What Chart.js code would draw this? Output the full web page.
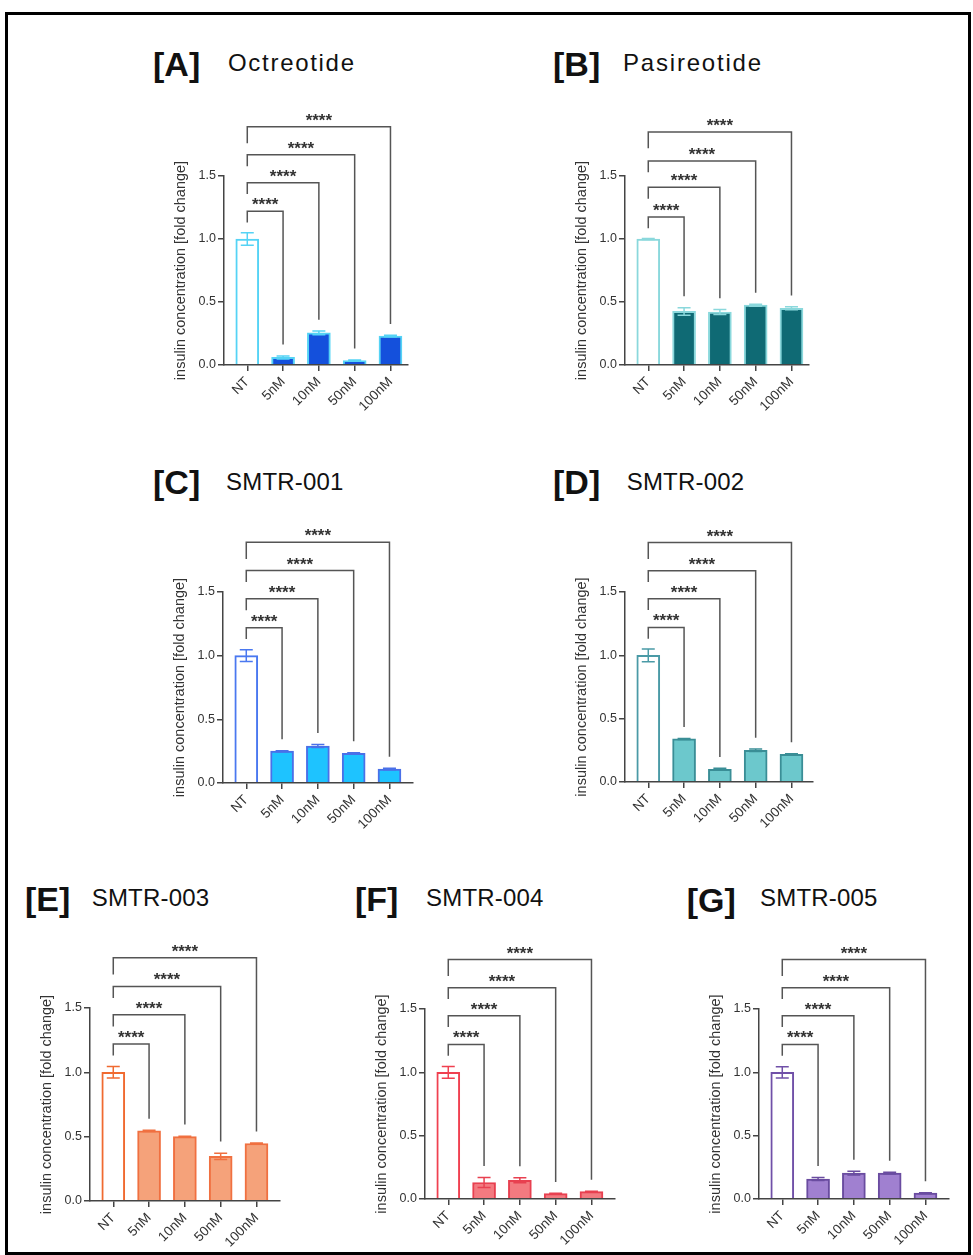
<!DOCTYPE html>
<html>
<head>
<meta charset="utf-8">
<script src="https://cdn.jsdelivr.net/npm/chart.js@4.4.1/dist/chart.umd.min.js"></script>
<style>
  body { margin: 0; background: #fff; width: 973px; height: 1255px; position: relative; overflow: hidden; font-family: 'Liberation Sans', Arial, sans-serif; }
  .frame { position: absolute; left: 5px; top: 12px; width: 966px; height: 1243px; border: 3px solid #000; box-sizing: border-box; }
  .tag, .name { position: absolute; white-space: nowrap; color: #111; line-height: 1; }
  .tag { font-weight: bold; font-size: 34px; }
  .name { font-size: 24px; }
  canvas { position: absolute; }
</style>
</head>
<body>
<div class="frame"></div>
<script>
const doseLabels = ["NT", "5nM", "10nM", "50nM", "100nM"];
const yTickValues = [0, 0.5, 1.0, 1.5];
const yAxisTitle = "insulin concentration [fold change]";
const sigLabels = ["****", "****", "****", "****"];

// mean fold change and error
const octreotideMean = [1.0, 0.06, 0.255, 0.035, 0.23];
const octreotideErr = [0.05, 0.012, 0.015, 0.005, 0.006];
const pasireotideMean = [1.0, 0.425, 0.42, 0.475, 0.45];
const pasireotideErr = [0.004, 0.03, 0.02, 0.008, 0.012];
const smtr001Mean = [1.0, 0.25, 0.29, 0.233, 0.11];
const smtr001Err = [0.046, 0.004, 0.012, 0.005, 0.006];
const smtr002Mean = [1.0, 0.34, 0.1, 0.25, 0.218];
const smtr002Err = [0.05, 0.004, 0.008, 0.01, 0.006];
const smtr003Mean = [1.0, 0.545, 0.5, 0.347, 0.447];
const smtr003Err = [0.045, 0.005, 0.004, 0.025, 0.004];
const smtr004Mean = [1.0, 0.13, 0.148, 0.042, 0.058];
const smtr004Err = [0.046, 0.04, 0.02, 0.003, 0.003];
const smtr005Mean = [1.0, 0.158, 0.205, 0.205, 0.047];
const smtr005Err = [0.045, 0.012, 0.015, 0.007, 0.003];

// bracket heights (in axis units) and left leg lengths
const bracketLevels = [1.22, 1.447, 1.668, 1.89];
const bracketLevelsB = [1.175, 1.41, 1.62, 1.85];
const bracketLegs = [0.09, 0.09, 0.09, 0.13];

const panels = [
  { tag: "[A]", name: "Octreotide", mean: octreotideMean, err: octreotideErr, fill: "#1450dc", line: "#55d3f5", nt: "#55d3f5",
    levels: bracketLevels, ax: 224, top: 175.7, h: 189.3, w: 184, tagX: 153, tagY: 76, nameX: 228, nameY: 71.5, ls: 1.7 },
  { tag: "[B]", name: "Pasireotide", mean: pasireotideMean, err: pasireotideErr, fill: "#0f6a74", line: "#8ad8dc", nt: "#8ad8dc",
    levels: bracketLevelsB, ax: 625, top: 175.7, h: 189.3, w: 184, tagX: 553, tagY: 76, nameX: 623, nameY: 71.5, ls: 1.8 },
  { tag: "[C]", name: "SMTR-001", mean: smtr001Mean, err: smtr001Err, fill: "#1ec3ff", line: "#4a70e8", nt: "#4a78f0",
    levels: bracketLevels, ax: 223.3, top: 591.7, h: 191, w: 190, tagX: 153, tagY: 494, nameX: 226, nameY: 490, ls: 0.2 },
  { tag: "[D]", name: "SMTR-002", mean: smtr002Mean, err: smtr002Err, fill: "#6cc8cc", line: "#3a8e96", nt: "#4a9aa6",
    levels: bracketLevels, ax: 625, top: 591.7, h: 190, w: 188, tagX: 553, tagY: 494, nameX: 626.7, nameY: 490, ls: 0.2 },
  { tag: "[E]", name: "SMTR-003", mean: smtr003Mean, err: smtr003Err, fill: "#f5a27a", line: "#f07040", nt: "#f06a30",
    levels: bracketLevels, ax: 90, top: 1008, h: 192.7, w: 190, tagX: 25, tagY: 911, nameX: 91.7, nameY: 906.5, ls: 0.2 },
  { tag: "[F]", name: "SMTR-004", mean: smtr004Mean, err: smtr004Err, fill: "#f37a80", line: "#e84050", nt: "#f04050",
    levels: bracketLevels, ax: 425, top: 1009.3, h: 190, w: 190, tagX: 355, tagY: 911, nameX: 426, nameY: 906.5, ls: 0.2 },
  { tag: "[G]", name: "SMTR-005", mean: smtr005Mean, err: smtr005Err, fill: "#a080d0", line: "#6a4ca0", nt: "#7050a8",
    levels: bracketLevels, ax: 759.3, top: 1009.3, h: 190, w: 190, tagX: 686.7, tagY: 912, nameX: 760, nameY: 906.5, ls: 0.2 }
];

//Error bars and significance brackets
const sigPlugin = {
  id: "sigBrackets",
  afterDatasetsDraw(chart, args, opts) {
    const { ctx } = chart;
    const x = chart.scales.x;
    const y = chart.scales.y;
    ctx.save();
    ctx.lineWidth = 1.5;
    opts.err.forEach((e, i) => {
      const m = opts.mean[i];
      const cx = x.getPixelForValue(i);
      const yt = y.getPixelForValue(m + e);
      const yb = y.getPixelForValue(m - e);
      ctx.strokeStyle = opts.colors[i];
      ctx.beginPath();
      ctx.moveTo(cx, yt); ctx.lineTo(cx, yb);
      ctx.moveTo(cx - 6.5, yt); ctx.lineTo(cx + 6.5, yt);
      ctx.moveTo(cx - 6.5, yb); ctx.lineTo(cx + 6.5, yb);
      ctx.stroke();
    });

    ctx.strokeStyle = "#555";
    ctx.fillStyle = "#333";
    ctx.font = "bold 17px 'Liberation Sans'";
    ctx.textAlign = "center";
    ctx.textBaseline = "alphabetic";
    opts.levels.forEach((lv, k) => {
      const i = k + 1;
      const x0 = x.getPixelForValue(0);
      const x1 = x.getPixelForValue(i);
      const top = y.getPixelForValue(lv);
      const leftEnd = y.getPixelForValue(lv - bracketLegs[k]);
      const rightEnd = y.getPixelForValue(opts.mean[i] + opts.err[i] + 0.09);
      ctx.beginPath();
      ctx.moveTo(x0, leftEnd);
      ctx.lineTo(x0, top);
      ctx.lineTo(x1, top);
      ctx.lineTo(x1, rightEnd);
      ctx.stroke();
      ctx.fillText(sigLabels[k], (x0 + x1) / 2, top - 1);
    });
    ctx.restore();
  }
};

function addText(cls, text, left, baseline, size, ls) {
  const d = document.createElement("div");
  d.className = cls;
  d.textContent = text;
  d.style.left = left + "px";
  d.style.top = (baseline - 0.8465 * size) + "px";
  if (ls) d.style.letterSpacing = ls + "px";
  document.body.appendChild(d);
}

function makeChart(p) {
  const padTop = 80, axisW = 55, axisH = 60, padRight = 10;
  const cw = Math.round(axisW + p.w + padRight);
  const ch = Math.round(padTop + p.h + axisH);
  const cv = document.createElement("canvas");
  cv.width = cw; cv.height = ch;
  cv.style.width = cw + "px"; cv.style.height = ch + "px";
  cv.style.left = (p.ax - axisW) + "px";
  cv.style.top = (p.top - padTop) + "px";
  document.body.appendChild(cv);

  const xMin = -0.65;
  const xMax = xMin + p.w / 35.8;
  const colors = p.mean.map((v, i) => (i === 0 ? p.nt : p.line));

  new Chart(cv, {
    type: "bar",
    data: {
      datasets: [{
        data: p.mean.map((v, i) => ({ x: i, y: v })),
        backgroundColor: p.mean.map((v, i) => (i === 0 ? "#ffffff" : p.fill)),
        borderColor: colors,
        borderWidth: 2,
        barThickness: 23
      }]
    },
    options: {
      responsive: false,
      animation: false,
      devicePixelRatio: 1,
      layout: { padding: { top: padTop, left: 0, right: padRight, bottom: 0 } },
      plugins: {
        legend: { display: false },
        tooltip: { enabled: false },
        sigBrackets: { mean: p.mean, err: p.err, colors: colors, levels: p.levels }
      },
      scales: {
        x: {
          type: "linear", min: xMin, max: xMax, offset: false,
          afterBuildTicks: s => { s.ticks = doseLabels.map((_, i) => ({ value: i })); },
          afterFit: s => { s.height = axisH; },
          grid: { drawOnChartArea: false, tickLength: 6, color: "#444", lineWidth: 1.5, offset: false },
          border: { color: "#444", width: 1.5, z: 1 },
          ticks: { callback: v => doseLabels[v], minRotation: 45, maxRotation: 45, autoSkip: false,
                   font: { family: "'Liberation Sans'", size: 13.5 }, color: "#333", padding: 3 }
        },
        y: {
          min: 0, max: 1.5,
          afterBuildTicks: s => { s.ticks = yTickValues.map(v => ({ value: v })); },
          afterFit: s => { s.width = axisW; },
          grid: { drawOnChartArea: false, tickLength: 6, color: "#444", lineWidth: 1.5 },
          border: { color: "#444", width: 1.5 },
          ticks: { callback: v => v.toFixed(1), font: { family: "'Liberation Sans'", size: 12.5 }, color: "#333", padding: 2 },
          title: { display: true, text: yAxisTitle, font: { family: "'Liberation Sans'", size: 14.5 }, color: "#333", padding: { top: 3, bottom: 0 } }
        }
      }
    },
    plugins: [sigPlugin]
  });
}

panels.forEach(p => {
  addText("tag", p.tag, p.tagX, p.tagY, 34, 0);
  addText("name", p.name, p.nameX, p.nameY, 24, p.ls);
  makeChart(p);
});
</script>
</body>
</html>
